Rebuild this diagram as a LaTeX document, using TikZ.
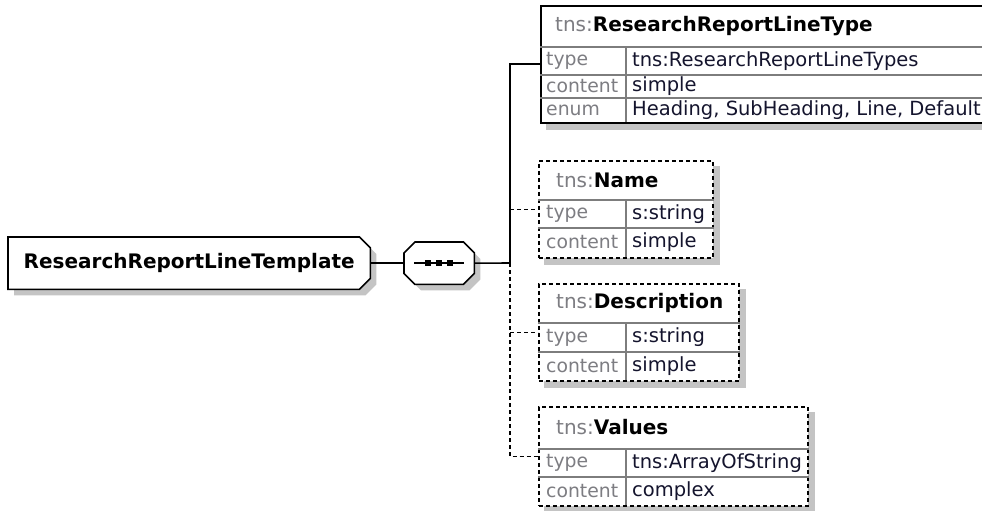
\documentclass[tikz,border=0pt]{standalone}
\usepackage{fontspec}
\setmainfont{DejaVu Sans}
\usetikzlibrary{calc,backgrounds}
\definecolor{shadowgray}{RGB}{196,196,196}
\definecolor{lblgray}{RGB}{125,125,130}
\definecolor{valcol}{RGB}{20,20,45}
\definecolor{linegray}{RGB}{125,125,125}
\begin{document}
\begin{tikzpicture}[x=1pt,y=-1pt,
  box/.style={draw=black, line width=1.6pt, fill=white, inner sep=0pt, anchor=north west},
  optbox/.style={box, dash pattern=on 4pt off 3pt},
  ghost/.style={draw=none, inner sep=0pt, anchor=north west},
  shade/.style={fill=shadowgray, draw=none},
  inner/.style={draw=linegray, line width=1.3pt},
  lbl/.style={anchor=west, inner sep=0pt, text=lblgray, font=\fontsize{18.8}{21}\selectfont},
  val/.style={anchor=west, inner sep=0pt, text=valcol, font=\fontsize{19.5}{21}\selectfont},
  hdr/.style={anchor=west, inner sep=0pt, font=\fontsize{20}{22}\selectfont},
  conn/.style={draw=black, line width=1.6pt},
  optconn/.style={conn, dash pattern=on 4pt off 3pt},
  outline/.style={draw=black, line width=1.6pt, fill=white},
  dotsq/.style={fill=black, draw=none},
]
\useasboundingbox (0,0) rectangle (982,511);

% ---- element boxes ----
\node[box, minimum width=460, minimum height=117] (rlt) at (540,5) {};
\node[optbox, minimum width=174, minimum height=97] (name) at (538,160) {};
\node[optbox, minimum width=200, minimum height=97] (desc) at (538,283) {};
\node[optbox, minimum width=269, minimum height=99] (vals) at (538,406) {};

% ---- main element and sequence ----
\node[ghost, minimum width=362, minimum height=52, font=\fontsize{20}{22}\selectfont\bfseries] (main) at (8,237) {ResearchReportLineTemplate};
\node[ghost, minimum width=70, minimum height=42] (seq) at (404,242) {};

\begin{scope}[on background layer]
  % shadows
  \fill[shade] ($(rlt.south west)+(6,0)$) rectangle ($(rlt.south east)+(6,6)$);
  \fill[shade] ($(name.north west)+(6,6)$) rectangle ($(name.south east)+(6,6)$);
  \fill[shade] ($(desc.north west)+(6,6)$) rectangle ($(desc.south east)+(6,6)$);
  \fill[shade] ($(vals.north west)+(6,6)$) rectangle ($(vals.south east)+(6,6)$);
  \fill[shade] ($(main.north west)+(6,6)$) -- ($(main.north east)+(-5,6)$) -- ($(main.north east)+(6,17)$) -- ($(main.south east)+(6,-5)$) -- ($(main.south east)+(-5,6)$) -- ($(main.south west)+(6,6)$) -- cycle;
  \fill[shade] ($(seq.north west)+(17,6)$) -- ($(seq.north east)+(-5,6)$) -- ($(seq.north east)+(6,17)$) -- ($(seq.south east)+(6,-5)$) -- ($(seq.south east)+(-5,6)$) -- ($(seq.south west)+(17,6)$) -- ($(seq.south west)+(6,-5)$) -- ($(seq.north west)+(6,17)$) -- cycle;
  % outlines
  \draw[outline] (main.north west) -- ($(main.north east)+(-11,0)$) -- ($(main.north east)+(0,11)$) -- ($(main.south east)+(0,-11)$) -- ($(main.south east)+(-11,0)$) -- (main.south west) -- cycle;
  \draw[outline] ($(seq.north west)+(11,0)$) -- ($(seq.north east)+(-11,0)$) -- ($(seq.north east)+(0,11)$) -- ($(seq.south east)+(0,-11)$) -- ($(seq.south east)+(-11,0)$) -- ($(seq.south west)+(11,0)$) -- ($(seq.south west)+(0,-11)$) -- ($(seq.north west)+(0,11)$) -- cycle;
\end{scope}

% sequence symbol
\draw[line width=1.6pt] ($(seq.west)+(10,0)$) -- ($(seq.east)+(-10,0)$);
\fill[dotsq] ($(seq.center)+(-14,-3)$) rectangle ($(seq.center)+(-8,3)$);
\fill[dotsq] ($(seq.center)+(-3,-3)$) rectangle ($(seq.center)+(3,3)$);
\fill[dotsq] ($(seq.center)+(8,-3)$) rectangle ($(seq.center)+(14,3)$);

% ---- inner lines ----
\draw[inner] ($(rlt.north west)+(0,42)$) -- ($(rlt.north east)+(0,42)$);
\draw[inner] ($(rlt.north west)+(0,70)$) -- ($(rlt.north east)+(0,70)$);
\draw[inner] ($(rlt.north west)+(0,93)$) -- ($(rlt.north east)+(0,93)$);
\draw[inner] (626,47) -- (626,122);

\draw[inner] ($(name.north west)+(0,40)$) -- ($(name.north east)+(0,40)$);
\draw[inner] ($(name.north west)+(0,68)$) -- ($(name.north east)+(0,68)$);
\draw[inner] (626,200) -- (626,257);

\draw[inner] ($(desc.north west)+(0,40)$) -- ($(desc.north east)+(0,40)$);
\draw[inner] ($(desc.north west)+(0,69)$) -- ($(desc.north east)+(0,69)$);
\draw[inner] (626,323) -- (626,380);

\draw[inner] ($(vals.north west)+(0,43)$) -- ($(vals.north east)+(0,43)$);
\draw[inner] ($(vals.north west)+(0,71)$) -- ($(vals.north east)+(0,71)$);
\draw[inner] (626,449) -- (626,505);

% ---- texts ----
\node[hdr] (rltH) at (555,26) {\textcolor{lblgray}{tns:}\textbf{ResearchReportLineType}};
\node[lbl] (rltL1) at (546,61) {type};
\node[val] (rltV1) at (632,61) {tns:ResearchReportLineTypes};
\node[lbl] (rltL2) at (546,86.5) {content};
\node[val] (rltV2) at (632,86.5) {simple};
\node[lbl] (rltL3) at (546,110) {enum};
\node[val] (rltV3) at (632,110) {Heading, SubHeading, Line, Default};

\node[hdr] (nameH) at (556,180) {\textcolor{lblgray}{tns:}\textbf{Name}};
\node[lbl] (nameL1) at (546,214) {type};
\node[val] (nameV1) at (632,214) {s:string};
\node[lbl] (nameL2) at (546,242.5) {content};
\node[val] (nameV2) at (632,242.5) {simple};

\node[hdr] (descH) at (556,303) {\textcolor{lblgray}{tns:}\textbf{Description}};
\node[lbl] (descL1) at (546,337.5) {type};
\node[val] (descV1) at (632,337.5) {s:string};
\node[lbl] (descL2) at (546,366) {content};
\node[val] (descV2) at (632,366) {simple};

\node[hdr] (valsH) at (556,427.5) {\textcolor{lblgray}{tns:}\textbf{Values}};
\node[lbl] (valsL1) at (546,463) {type};
\node[val] (valsV1) at (632,463) {tns:ArrayOfString};
\node[lbl] (valsL2) at (546,491) {content};
\node[val] (valsV2) at (632,491) {complex};

% ---- connectors ----
\coordinate (trunk) at (510,263);
\draw[conn] (main.east) -- (seq.west);
\draw[conn] (seq.east) -- (trunk);
\draw[optconn] (trunk) -- (trunk |- vals.west) -- (vals.west);
\draw[optconn] (trunk |- desc.west) -- (desc.west);
\draw[optconn] (trunk |- name.west) -- (name.west);
\draw[conn] (trunk) -- (trunk |- rlt.west) -- (rlt.west);
\end{tikzpicture}
\end{document}
